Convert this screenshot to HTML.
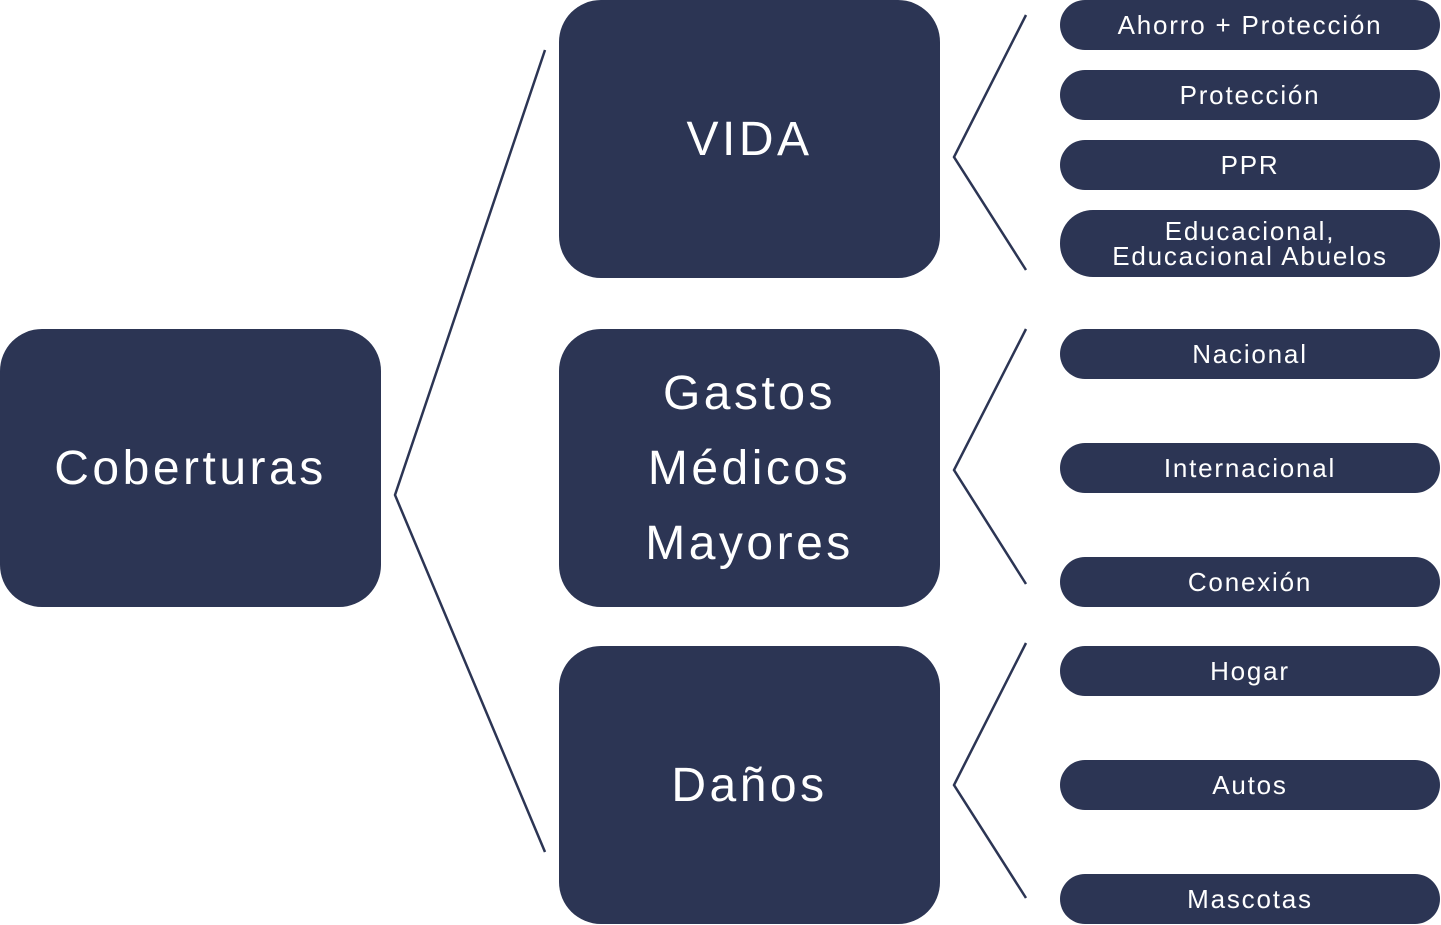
<!DOCTYPE html>
<html><head><meta charset="utf-8"><style>
body{margin:0;width:1441px;height:925px;background:#fff;position:relative;overflow:hidden;font-family:"Liberation Sans",sans-serif;}
.b{position:absolute;background:#2c3554;color:#fff;display:flex;align-items:center;justify-content:center;text-align:center;}
.big{border-radius:42px;width:381px;height:278px;font-size:48px;letter-spacing:3.5px;}
.p{left:1060px;width:380px;height:50px;border-radius:25px;font-size:26px;line-height:26px;letter-spacing:1.8px;}
</style></head><body>
<svg width="1441" height="925" style="position:absolute;left:0;top:0">
<g fill="none" stroke="#2c3554" stroke-width="2.5">
<polyline points="545,50 395,495 545,852"/>
<polyline points="1026,15 954,157 1026,270"/>
<polyline points="1026,329 954,470 1026,584"/>
<polyline points="1026,643 954,785 1026,898"/>
</g></svg>
<div class="b big" style="left:0;top:329px">Coberturas</div>
<div class="b big" style="left:559px;top:0">VIDA</div>
<div class="b big" style="left:559px;top:329px;line-height:75px">Gastos<br>Médicos<br>Mayores</div>
<div class="b big" style="left:559px;top:646px">Daños</div>
<div class="b p" style="top:0">Ahorro + Protección</div>
<div class="b p" style="top:70px">Protección</div>
<div class="b p" style="top:140px">PPR</div>
<div class="b p" style="top:210px;height:67px;border-radius:33px;line-height:25px">Educacional,<br>Educacional Abuelos</div>
<div class="b p" style="top:329px">Nacional</div>
<div class="b p" style="top:443px">Internacional</div>
<div class="b p" style="top:557px">Conexión</div>
<div class="b p" style="top:646px">Hogar</div>
<div class="b p" style="top:760px">Autos</div>
<div class="b p" style="top:874px">Mascotas</div>
</body></html>
